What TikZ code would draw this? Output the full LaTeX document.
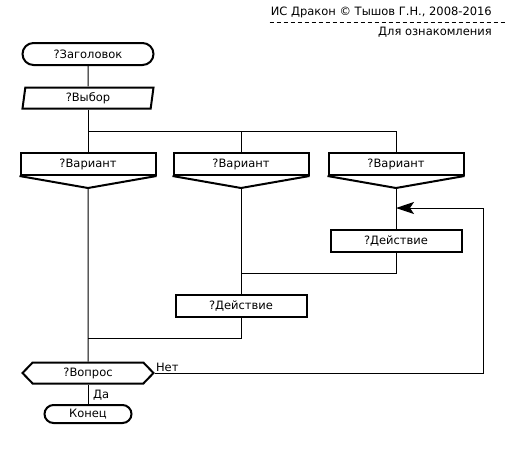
\documentclass[tikz,border=0pt]{standalone}
\usepackage{fontspec}
\setmainfont{DejaVu Sans}
\usetikzlibrary{shapes.geometric,shapes.misc,shapes.symbols,arrows.meta}

\tikzset{
  drakon/.style = {draw, line width=2pt, fill=white, inner sep=0pt, align=center},
  terminal/.style = {drakon, rounded rectangle, minimum width=131pt, minimum height=22pt},
  choicebox/.style = {drakon, trapezium, trapezium left angle=76, trapezium right angle=104,
                      trapezium stretches body, minimum width=131pt, minimum height=21pt},
  varbox/.style = {drakon, rectangle, minimum width=135pt, minimum height=22pt},
  actbox/.style = {drakon, rectangle, minimum width=131pt, minimum height=22pt},
  askbox/.style = {drakon, signal, signal to=west and east, signal pointer angle=92,
                   minimum width=131pt, minimum height=21pt},
  flow/.style = {line width=1pt},
  txt/.style = {inner sep=1pt}
}

\begin{document}
\begin{tikzpicture}[x=1pt, y=-1pt, font=\fontsize{11.5}{13}\selectfont]
  \useasboundingbox (0,0) rectangle (505,450);

  % header
  \node[txt, anchor=east] (hdr) at (493,12) {ИС Дракон © Тышов Г.Н., 2008-2016};
  \node[txt, anchor=east] (note) at (493,32) {Для ознакомления};
  \draw[flow, dash pattern=on 4pt off 3pt] (hdr.west |- 0,22) -- (505,22);

  % connectors first, boxes on top
  \coordinate (split) at (88,131);
  \coordinate (join1) at (88,338);
  \coordinate (join2) at (241,273);
  \coordinate (loop) at (483,373);
  \coordinate (back) at (396,208);

  \node[terminal] (title) at (88,54) {?Заголовок};
  \node[choicebox] (choice) at (88,98) {?Выбор};

  \foreach \n/\x in {1/88, 2/241, 3/396} {
    \node[varbox] (var\n) at (\x,164) {?Вариант};
    \path (var\n.south) ++(0,12) coordinate (tip\n);
  }

  \node[actbox] (act3) at (396,241) {?Действие};
  \node[actbox] (act2) at (241,306) {?Действие};
  \node[askbox] (ask) at (88,373) {?Вопрос};
  \node[terminal, minimum width=87pt, minimum height=18pt] (stop) at (88,414) {Конец};

  \draw[flow] (title) -- (choice);
  \draw[flow] (choice) -- (var1);
  \draw[flow] (split) -| (var2.north);
  \draw[flow] (split) -| (var3.north);

  \draw[flow] (tip1) -- (ask);
  \draw[flow] (tip2) -- (act2);
  \draw[flow] (tip3) -- (act3);
  \draw[flow] (act3) |- (join2);
  \draw[flow] (act2) |- (join1);
  \draw[flow, -{Stealth[length=18pt, width=12pt, inset=4pt]}] (ask.east) -- (loop) |- (back);
  \draw[flow] (ask) -- (stop);

  \foreach \n in {1,2,3}
    \draw[line width=2pt, fill=white] (var\n.south west) -- (tip\n) -- (var\n.south east);

  % labels
  \node[txt, anchor=south west] (no) at (ask.east) {Нет};
  \node[txt, anchor=west] (yes) at (92,395) {Да};
\end{tikzpicture}
\end{document}
